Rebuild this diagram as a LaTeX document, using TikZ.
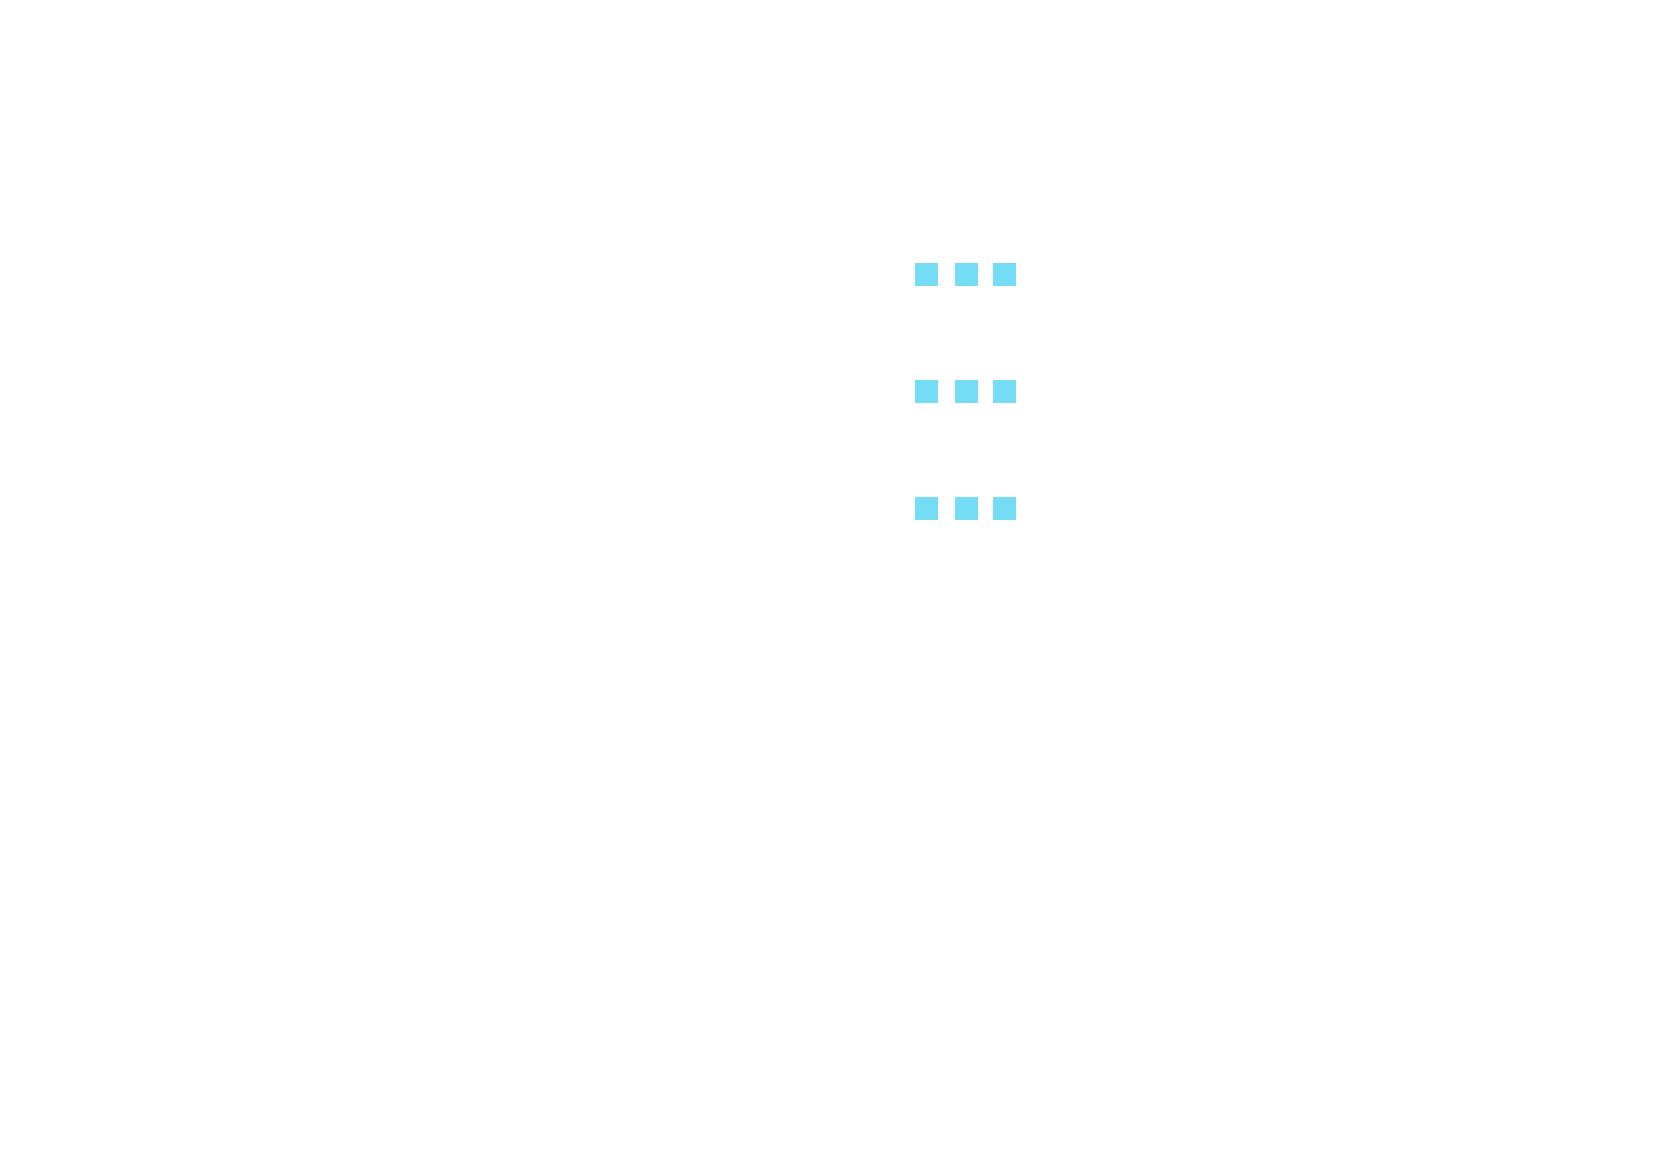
\documentclass[tikz,border=0pt]{standalone}
\definecolor{sqcyan}{RGB}{116,220,244}
\begin{document}
\begin{tikzpicture}[x=1pt,y=-1pt,
  sq/.style={fill=sqcyan,draw=none,minimum width=22.7pt,minimum height=22.7pt,inner sep=0pt,outer sep=0pt}]
\useasboundingbox[fill=white] (0,0) rectangle (1675,1166);
\foreach \r/\yy in {1/274.5,2/391.5,3/508.5}{
  \node[sq] (s\r a) at (926.5,\yy) {};
  \node[sq] (s\r b) at (966.5,\yy) {};
  \node[sq] (s\r c) at (1004.7,\yy) {};
}
\end{tikzpicture}
\end{document}
